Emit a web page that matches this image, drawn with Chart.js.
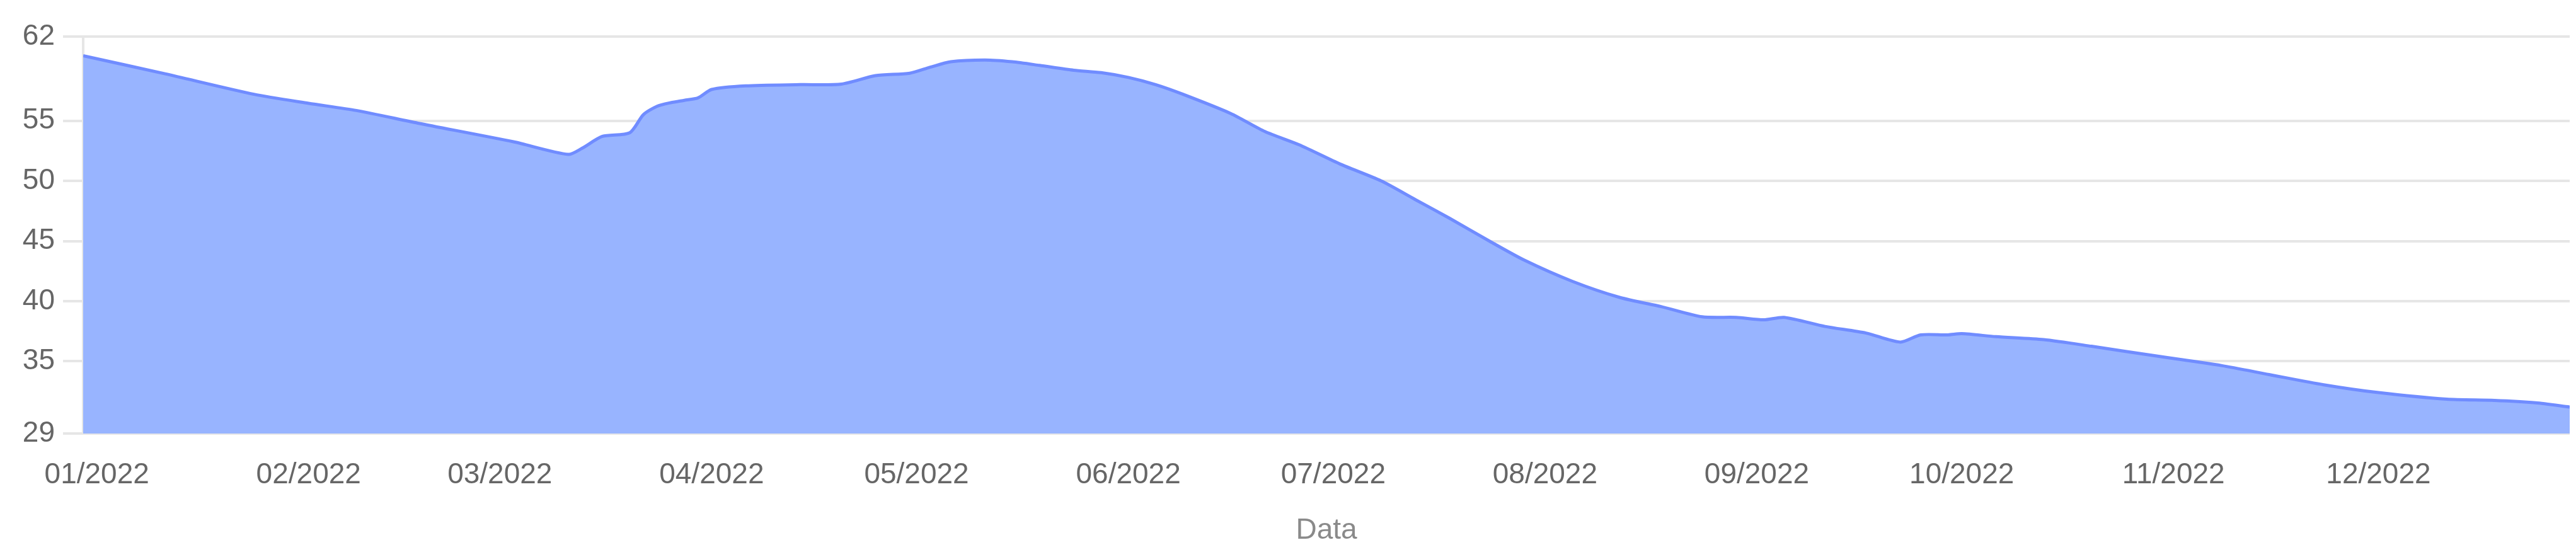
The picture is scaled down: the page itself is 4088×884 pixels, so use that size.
<!DOCTYPE html>
<html>
<head>
<meta charset="utf-8">
<title>Data</title>
<script src="https://cdn.jsdelivr.net/npm/chart.js@4.4.0/dist/chart.umd.min.js"></script>
<style>
  html, body { margin: 0; padding: 0; background: #ffffff; }
  #wrap { position: relative; width: 4088px; height: 884px; }
</style>
</head>
<body>
<div id="wrap">
  <canvas id="grafico" width="4088" height="884"></canvas>
</div>
<script>
// days counted from 01/01/2022 (negative = end of 2021)
const dayOffsets = [
  -2, 10, 23, 31, 38, 47, 61, 69, 71, 74, 78, 80, 82, 84, 86, 88, 90, 95,
  103, 109, 114, 119, 122, 125, 130, 134, 138, 143, 147, 151, 155, 159,
  166, 171, 176, 182, 188, 193, 198, 204, 209, 216, 223, 229, 235, 240,
  244, 247, 253, 259, 264, 267, 271, 273, 278, 285, 292, 302, 311, 318,
  326, 334, 344, 351, 357, 362
];
const values = [
  60.4, 58.9, 57.2, 56.45, 55.85, 54.8, 53.25, 52.2, 52.7, 53.7, 54.0, 55.5, 56.2, 56.5, 56.7, 56.9, 57.6, 57.9,
  58.0, 58.05, 58.75, 58.95, 59.45, 59.9, 60.05, 59.9, 59.6, 59.2, 59.0, 58.6, 58.0, 57.2,
  55.6, 54.1, 53.0, 51.4, 50.0, 48.45, 46.9, 44.95, 43.4, 41.65, 40.3, 39.55, 38.7, 38.65,
  38.45, 38.65, 37.9, 37.35, 36.6, 37.2, 37.2, 37.3, 37.05, 36.8, 36.25, 35.4, 34.65, 33.9,
  33.05, 32.4, 31.85, 31.75, 31.55, 31.2
];

const monthTicks = [0, 31, 59, 90, 120, 151, 181, 212, 243, 273, 304, 334];
const monthLabels = ["01/2022", "02/2022", "03/2022", "04/2022", "05/2022", "06/2022",
                     "07/2022", "08/2022", "09/2022", "10/2022", "11/2022", "12/2022"];
const yTicks = [29, 35, 40, 45, 50, 55, 62];

Chart.defaults.font.family = "'Liberation Sans', Arial, sans-serif";
Chart.defaults.font.size = 46;
Chart.defaults.color = '#666666';

const ctx = document.getElementById('grafico').getContext('2d');
new Chart(ctx, {
  type: 'line',
  data: {
    datasets: [{
      label: 'Serie',
      data: dayOffsets.map((d, i) => ({ x: d, y: values[i] })),
      borderColor: 'rgb(112, 140, 255)',
      backgroundColor: 'rgb(152, 180, 255)',
      borderWidth: 5,
      pointRadius: 0,
      fill: 'start',
      tension: 0.25
    }]
  },
  options: {
    responsive: false,
    devicePixelRatio: 1,
    animation: false,
    layout: { padding: { top: 58, right: 10, bottom: 0, left: 0 } },
    plugins: {
      legend: { display: false },
      tooltip: { enabled: false }
    },
    scales: {
      x: {
        type: 'linear',
        min: -2,
        max: 362,
        grid: { display: false, drawTicks: false },
        border: { display: false },
        afterBuildTicks: (scale) => { scale.ticks = monthTicks.map(v => ({ value: v })); },
        afterFit: (scale) => { scale.height = 196; },
        ticks: {
          padding: 39,
          maxRotation: 0,
          autoSkip: false,
          callback: (value) => {
            const i = monthTicks.indexOf(value);
            return i >= 0 ? monthLabels[i] : '';
          }
        },
        title: {
          display: true,
          text: 'Data',
          color: '#8a8a8a',
          padding: { top: 4, bottom: 14 }
        }
      },
      y: {
        min: 29,
        max: 62,
        afterBuildTicks: (scale) => { scale.ticks = yTicks.map(v => ({ value: v })); },
        afterFit: (scale) => { scale.width = 132; },
        grid: { color: '#e6e6e6', lineWidth: 4, tickLength: 32 },
        border: { display: true, color: '#e6e6e6', width: 4 },
        ticks: { padding: 13 }
      }
    }
  }
});
</script>
</body>
</html>
